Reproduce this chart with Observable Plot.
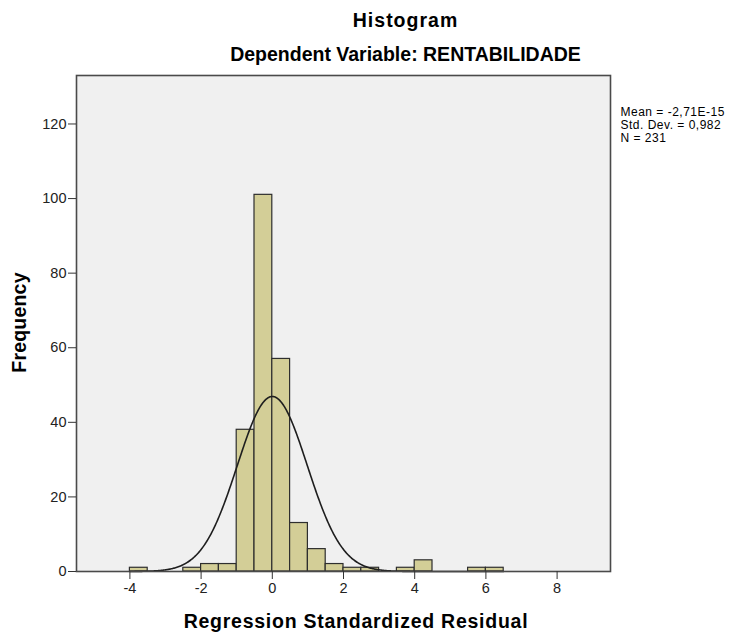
<!DOCTYPE html>
<html>
<head>
<meta charset="utf-8">
<script src="https://cdn.jsdelivr.net/npm/d3@7"></script>
<script src="https://cdn.jsdelivr.net/npm/@observablehq/plot@0.6"></script>
<style>
  html, body { margin: 0; padding: 0; background: #ffffff; }
  #chart { width: 732px; height: 634px; }
</style>
</head>
<body>
<div id="chart"></div>
<script>
// Histogram bins of the regression standardized residuals (bin width 0.5)
const binStart = [-4, -2.5, -2, -1.5, -1, -0.5, 0, 0.5, 1, 1.5, 2, 2.5, 3.5, 4, 5.5, 6];
const binCount = [1, 1, 2, 2, 38, 101, 57, 13, 6, 2, 1, 1, 1, 3, 1, 1];
const binWidth = 0.5;

// Summary statistics shown beside the plot
const mean = -2.71e-15;
const stdDev = 0.982;
const n = 231;
const statLines = ["Mean = -2,71E-15", "Std. Dev. = 0,982", "N = 231"];

// Axis ticks
const xTicks = [-4, -2, 0, 2, 4, 6, 8];
const yTicks = [0, 20, 40, 60, 80, 100, 120];

const titleText = "Histogram";
const subtitleText = "Dependent Variable: RENTABILIDADE";
const xLabel = "Regression Standardized Residual";
const yLabel = "Frequency";

const bins = binStart.map((x1, i) => ({x1, x2: x1 + binWidth, count: binCount[i]}));

// Normal curve scaled to the histogram: N * binWidth * pdf(x)
const curveXs = d3.range(-4, 6.5 + 1e-9, 0.02);
const normal = curveXs.map(x => ({
  x,
  y: n * binWidth * Math.exp(-0.5 * ((x - mean) / stdDev) ** 2) / (stdDev * Math.sqrt(2 * Math.PI))
}));

const font = "'Liberation Sans', Arial, Helvetica, sans-serif";

const chart = Plot.plot({
  width: 732,
  height: 634,
  marginLeft: 76,
  marginRight: 122,
  marginTop: 75,
  marginBottom: 63,
  style: {fontFamily: font, fontSize: "14.5px", color: "#222", background: "#ffffff"},
  x: {domain: [-5.5, 9.5], label: null},
  y: {domain: [0, 133], label: null},
  marks: [
    Plot.frame({fill: "#f0f0f0", stroke: null}),
    Plot.rectY(bins, {x1: "x1", x2: "x2", y: "count", fill: "#d3ce97", stroke: "#2e2e2e", strokeWidth: 1.2}),
    Plot.line(normal, {x: "x", y: "y", stroke: "#1e1e1e", strokeWidth: 1.6, curve: "linear"}),
    Plot.frame({stroke: "#4a4a4a", strokeWidth: 1.6}),
    Plot.axisX({ticks: xTicks, tickSize: 8, tickPadding: 3, tickFormat: d => String(d), label: null, stroke: "#333"}),
    Plot.axisY({ticks: yTicks, tickSize: 8, tickPadding: 2, label: null, stroke: "#333"}),
    // Titles
    Plot.text([titleText], {frameAnchor: "top", dx: 62, dy: -54.5, fontSize: 19.5, fontWeight: "bold", fill: "#000", lineAnchor: "middle", textAnchor: "middle"}),
    Plot.text([subtitleText], {frameAnchor: "top", dx: 62, dy: -20.3, fontSize: 19.5, fontWeight: "bold", fill: "#000", lineAnchor: "middle", textAnchor: "middle"}),
    // Axis titles
    Plot.text([xLabel], {frameAnchor: "bottom", dx: 12.5, dy: 49.8, fontSize: 19.5, fontWeight: "bold", fill: "#000", lineAnchor: "middle", textAnchor: "middle"}),
    Plot.text([yLabel], {frameAnchor: "left", dx: -57, dy: -1, rotate: -90, fontSize: 19.5, fontWeight: "bold", fill: "#000", lineAnchor: "middle", textAnchor: "middle"}),
    // Summary statistics
    Plot.text([statLines.join("\n")], {frameAnchor: "top-right", dx: 10, dy: 31, textAnchor: "start", lineAnchor: "top", lineHeight: 1.1, fontSize: 12, fill: "#000"})
  ]
});

// Slightly wider tracking on the heading and axis titles
const tracking = new Map([[titleText, "1px"], [xLabel, "0.75px"], [yLabel, "0.2px"]]);
d3.select(chart).selectAll("text").each(function() {
  const t = this.textContent;
  if (tracking.has(t)) this.setAttribute("letter-spacing", tracking.get(t));
});
d3.select(chart).selectAll("tspan").each(function() {
  if (statLines.includes(this.textContent)) this.setAttribute("letter-spacing", "0.5px");
});

document.getElementById("chart").appendChild(chart);
</script>
</body>
</html>
